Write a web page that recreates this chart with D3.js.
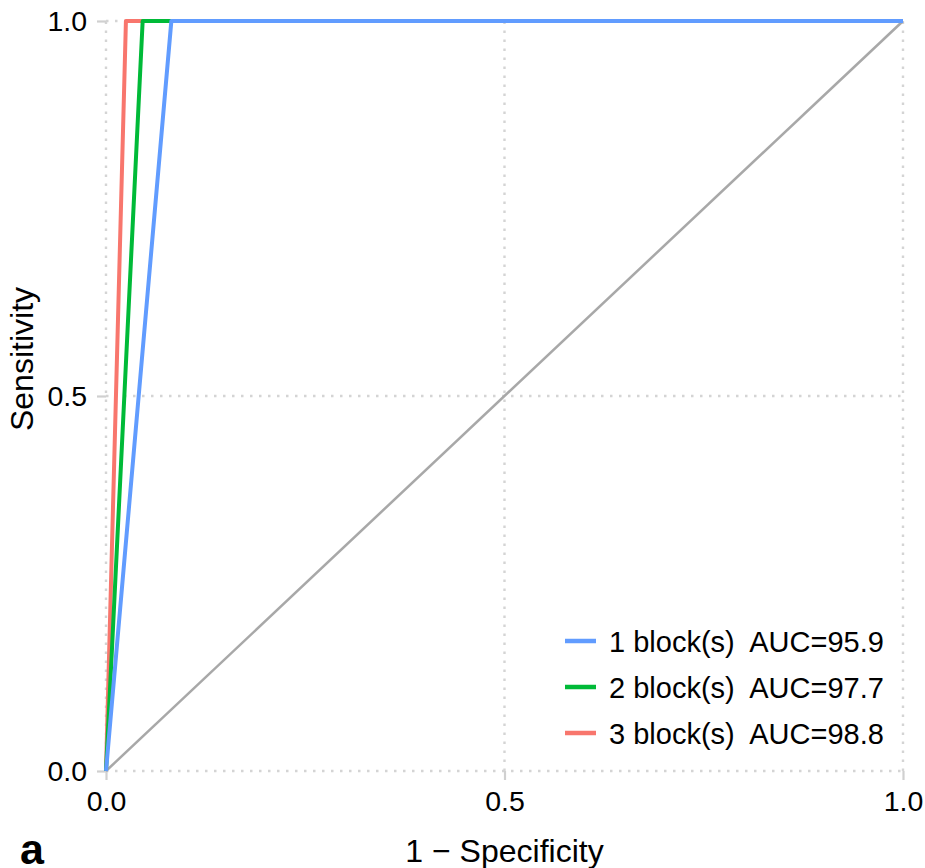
<html>
<head>
<style>
body { margin: 0; background: #fff; }
text { font-family: "Liberation Sans", Arial, sans-serif; }
</style>
</head>
<body>
<div id="chart"></div>
<script src="https://d3js.org/d3.v7.min.js"></script>
<script>
// ROC curves, one per block count
var seriesNames = ["1 block(s)", "2 block(s)", "3 block(s)"];
var aucValues = ["95.9", "97.7", "98.8"];
var seriesColors = ["#619CFF", "#00BA38", "#F8766D"];
var fprPoints = [[0, 0.082, 1], [0, 0.046, 1], [0, 0.025, 1]];
var tprPoints = [[0, 1, 1], [0, 1, 1], [0, 1, 1]];
var tickValues = [0, 0.5, 1];
var tickLabels = ["0.0", "0.5", "1.0"];

var width = 925, height = 868;
var margin = {left: 106, right: 22, top: 21, bottom: 97};

var svg = d3.select("#chart").append("svg")
	.attr("width", width)
	.attr("height", height);

var x = d3.scaleLinear().domain([0, 1]).range([margin.left, width - margin.right]);
var y = d3.scaleLinear().domain([0, 1]).range([height - margin.bottom, margin.top]);

// dotted grid
svg.append("g").selectAll("line.gx")
	.data(tickValues).enter().append("line")
	.attr("x1", function(d) { return x(d); })
	.attr("x2", function(d) { return x(d); })
	.attr("y1", y(0)).attr("y2", y(1))
	.style("stroke", "#d4d4d4").style("stroke-width", 2.4)
	.style("stroke-dasharray", "2.5,6.5");
svg.append("g").selectAll("line.gy")
	.data(tickValues).enter().append("line")
	.attr("y1", function(d) { return y(d); })
	.attr("y2", function(d) { return y(d); })
	.attr("x1", x(0)).attr("x2", x(1))
	.style("stroke", "#d4d4d4").style("stroke-width", 2.4)
	.style("stroke-dasharray", "2.5,6.5");

// axes (ticks only, no domain line)
var xAxis = svg.append("g")
	.attr("transform", "translate(0," + y(0) + ")")
	.call(d3.axisBottom(x).tickValues(tickValues)
		.tickFormat(function(d, i) { return tickLabels[i]; })
		.tickSizeOuter(0).tickSize(9).tickPadding(11));
var yAxis = svg.append("g")
	.attr("transform", "translate(" + x(0) + ",0)")
	.call(d3.axisLeft(y).tickValues(tickValues)
		.tickFormat(function(d, i) { return tickLabels[i]; })
		.tickSizeOuter(0).tickSize(9).tickPadding(10));
[xAxis, yAxis].forEach(function(a) {
	a.select(".domain").remove();
	a.selectAll(".tick line").style("stroke", "#d0d0d0").style("stroke-width", 2.2);
	a.selectAll(".tick text").style("font-size", "28.5px").style("fill", "#000")
		.style("font-family", "Liberation Sans, Arial, sans-serif");
});

// reference diagonal
svg.append("line")
	.attr("x1", x(0)).attr("y1", y(0))
	.attr("x2", x(1)).attr("y2", y(1))
	.style("stroke", "#a8a8a8").style("stroke-width", 2.5);

var line = d3.line()
	.x(function(d) { return x(d[0]); })
	.y(function(d) { return y(d[1]); });

// draw 3, 2, 1 so the first series sits on top
for (var s = seriesNames.length - 1; s >= 0; s--) {
	var pts = fprPoints[s].map(function(f, i) { return [f, tprPoints[s][i]]; });
	svg.append("path")
		.datum(pts)
		.attr("d", line)
		.style("fill", "none")
		.style("stroke", seriesColors[s])
		.style("stroke-width", 4)
		.style("stroke-linejoin", "round");
}

// legend
var legend = svg.append("g").selectAll("g")
	.data(seriesNames).enter().append("g")
	.attr("transform", function(d, i) { return "translate(565," + (641 + i * 46) + ")"; });
legend.append("line")
	.attr("x1", 0).attr("x2", 31).attr("y1", 0).attr("y2", 0)
	.style("stroke", function(d, i) { return seriesColors[i]; })
	.style("stroke-width", 4.5);
legend.append("text")
	.attr("x", 44).attr("y", 10.5)
	.style("font-size", "29px")
	.style("white-space", "pre")
	.text(function(d, i) { return d + "  AUC=" + aucValues[i]; });

// axis titles
svg.append("text")
	.attr("x", (x(0) + x(1)) / 2).attr("y", 862)
	.attr("text-anchor", "middle")
	.style("font-size", "32px")
	.text("1 \u2212 Specificity");
svg.append("text")
	.attr("transform", "translate(33,359) rotate(-90)")
	.attr("text-anchor", "middle")
	.style("font-size", "32px")
	.text("Sensitivity");

// panel tag
svg.append("text")
	.attr("x", 20).attr("y", 864)
	.style("font-size", "43px")
	.style("font-weight", "bold")
	.text("a");
</script>
</body>
</html>
